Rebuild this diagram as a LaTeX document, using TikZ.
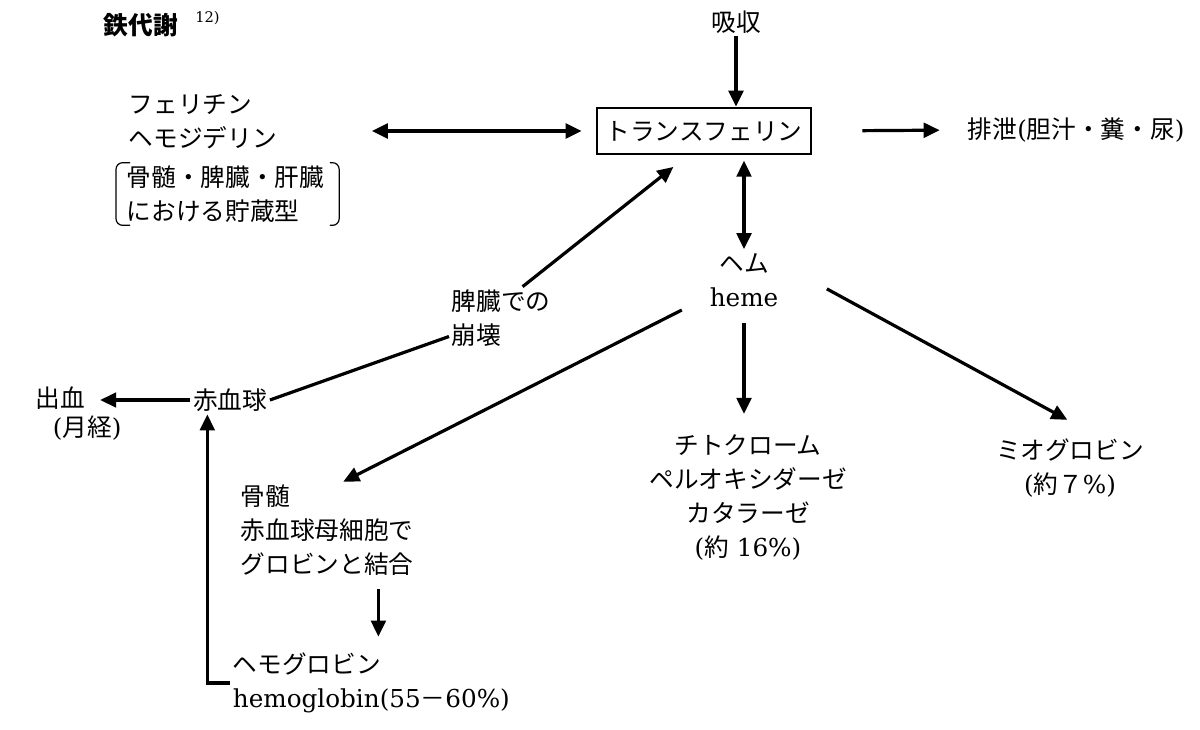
\documentclass[tikz,border=0pt]{standalone}
\usepackage{fontspec}
\setmainfont{DejaVu Serif}
\newfontfamily\jp{Noto Sans CJK JP}
\usepackage{tikz}
\usetikzlibrary{arrows,arrows.meta,positioning,calc}
\newcommand{\ltn}[1]{{\rmfamily #1}}

\begin{document}
\begin{tikzpicture}[x=0.75pt,y=-0.75pt,>={Triangle[length=12pt,width=11pt]},
   every node/.style={font=\jp\fontsize{18.5}{25.5}\selectfont,inner sep=2pt},
   txt/.style={anchor=west,align=left},
   ctr/.style={align=center},
   box/.style={draw,line width=1.5pt,minimum width=160pt,minimum height=35pt},
   link/.style={line width=2.4pt},
   bracket/.style={line width=0.9pt,rounded corners=5pt}]
   \useasboundingbox (0,0) rectangle (1200,729);
   \node (title) [anchor=west,font=\jp\bfseries\fontsize{18.5}{20}\selectfont] at (101,25) {鉄代謝};
   \node (ref) [anchor=west,inner sep=0pt,font=\rmfamily\fontsize{11}{12}\selectfont] at (195,18) {12)};
   \node (absorb) at (736,22) {吸収};
   \node [box] (tf) at (704,131) {トランスフェリン};
   \node [txt] (store) at (126,122) {フェリチン\\ヘモジデリン};
   \node [txt] (organ) at (124,194) {骨髄・脾臓・肝臓\\における貯蔵型};
   \node [txt] (excr) at (965,130) {排泄\ltn{(}胆汁・糞・尿\ltn{)}};
   \node [ctr] (heme) at (744,280) {ヘム\\\ltn{heme}};
   \node [txt] (spleen) at (449,318) {脾臓での\\崩壊};
   \node (rbc) at (230,400) {赤血球};
   \node [txt] (bleed) at (33,398) {出血};
   \node [txt] (menses) at (50,428) {\ltn{(}月経\ltn{)}};
   \node [txt] (bone) at (238,530) {骨髄\\赤血球母細胞で\\グロビンと結合};
   \node [txt] (hb) at (230,683) {ヘモグロビン\\\ltn{hemoglobin(55}－\ltn{60\%)}};
   \node [ctr] (cyto) at (748,497) {チトクローム\\ペルオキシダーゼ\\カタラーゼ\\\ltn{(}約\ltn{ 16\%)}};
   \node [ctr] (myo) at (1070,468) {ミオグロビン\\\ltn{(}約７\ltn{\%)}};

   \draw [bracket] ([xshift=4.5pt]organ.north west) -- ([xshift=-6pt]organ.north west)
      -- ([xshift=-6pt]organ.south west) -- ([xshift=4.5pt]organ.south west);
   \draw [bracket] ([xshift=2pt]organ.north east) -- ([xshift=9pt]organ.north east)
      -- ([xshift=9pt]organ.south east) -- ([xshift=2pt]organ.south east);

   \path[->,link]
    (absorb.south) edge (absorb.south |- tf.north)
    (tf.west -| store.east) edge[<->,shorten <=69pt,shorten >=11pt] (tf.west)
    (tf.east) edge[shorten <=38pt,shorten >=19pt] (excr.west)
    (tf.south -| heme.north) edge[<->,shorten <=4pt,shorten >=1pt] (heme.north)
    (rbc.east) edge[-] (spleen)
    ([xshift=16pt]spleen.north) edge[shorten >=14pt] ([xshift=-12pt]tf.south)
    (rbc.west) edge[shorten >=9pt] (rbc.west -| bleed.east)
    ([yshift=-13pt]heme.west) edge[shorten <=21pt] ([xshift=12pt]bone.north)
    (heme.south) edge[shorten <=10pt,shorten >=13pt] (heme.south |- cyto.north)
    ([yshift=12pt]heme.east) edge[shorten <=39pt,shorten >=25pt] ([xshift=20pt]myo.north)
    ($(hb.north |- bone.south)+(7,0)$) edge[shorten <=8pt,shorten >=10pt] ($(hb.north)+(7,0)$);
   \draw[->,link] (hb.west) -| ([xshift=-17pt]rbc.south);
\end{tikzpicture}
\end{document}
